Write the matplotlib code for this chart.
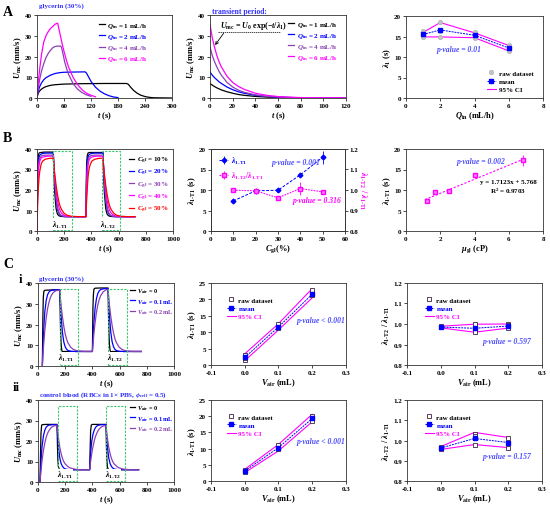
import matplotlib
matplotlib.use('Agg')
import matplotlib.pyplot as plt
from matplotlib.patches import Rectangle
from matplotlib.lines import Line2D
from matplotlib.ticker import FormatStrFormatter

# ------------------------------------------------------------------ data
# A (left): U_mc vs t for each Q_in  (t [s], U [mm/s])
a1_labels = ['1', '2', '4', '6']
a1_q1 = [(0,0),(2,2.0),(5,3.2),(10,4.3),(15,5.0),(20,5.5),(30,6.1),(40,6.4),(60,6.7),(80,6.8),(100,6.9),(150,7.0),(199,7.0),(203,6.6),(208,5.2),(215,3.6),(222,2.4),(230,1.4),(240,0.7),(250,0.3),(260,0.1),(300,0.0)]
a1_q2 = [(0,0),(3,3.5),(6,5.5),(10,7.3),(15,8.8),(20,9.8),(30,11.0),(40,11.8),(50,12.2),(60,12.4),(80,12.5),(107,12.6),(110,12.0),(115,10.0),(120,8.0),(130,5.2),(140,3.3),(150,2.0),(160,1.1),(170,0.5),(180,0.2)]
a1_q4 = [(0,0),(3,5),(6,9),(10,13),(15,16.5),(20,19.5),(25,21.5),(30,23),(35,24.2),(40,24.8),(45,25),(53,25),(55,24),(58,21),(62,17),(66,14),(70,11.5),(80,7),(90,4.3),(100,2.6),(110,1.5),(120,0.8)]
a1_q6 = [(0,0),(3,8),(6,14),(10,21),(15,27),(20,30),(25,32),(30,33.5),(35,34.5),(40,35.5),(44,36),(46,36),(48,34),(52,30),(56,26),(60,22.5),(65,18.5),(70,15),(80,10),(90,6.5),(100,4),(110,2.3),(120,1.3),(130,0.6)]

# A (middle): transient period decay
a2_q1 = [(0,7),(2,6.2),(4,5.5),(6,4.9),(8,4.4),(10,3.9),(15,3),(20,2.3),(25,1.7),(30,1.3),(40,0.75),(50,0.45),(60,0.25),(70,0.15),(80,0.08),(100,0.03),(120,0.0)]
a2_q2 = [(0,12.5),(2,11),(4,9.8),(6,8.8),(8,7.8),(10,7),(15,5.3),(20,4),(25,3),(30,2.3),(40,1.3),(50,0.75),(60,0.45),(70,0.25),(80,0.12),(100,0.05),(120,0.0)]
a2_q4 = [(0,24.5),(2,20.5),(4,17.5),(6,15),(8,12.8),(10,11),(15,7.5),(20,5.3),(25,3.8),(30,2.8),(40,1.5),(50,0.8),(60,0.45),(70,0.25),(80,0.1),(100,0.05),(120,0.0)]
a2_q6 = [(0,35.5),(2,29),(4,24.5),(6,20.5),(8,17.5),(10,15),(15,10.5),(20,7.5),(25,5.6),(30,4.2),(40,2.3),(50,1.3),(60,0.7),(70,0.4),(80,0.2),(100,0.1),(120,0.05)]

# A (right): lambda_1 vs Q_in
a3_q = [1, 2, 4, 6]
a3_mean = [15.5, 16.6, 15.3, 12.2]
a3_hi = [16.0, 18.4, 15.9, 12.8]
a3_lo = [14.9, 14.9, 14.7, 11.5]
a3_raw = [[16.4, 14.9, 15.4], [18.5, 14.9, 16.4], [16.0, 14.7, 15.2], [12.9, 11.4, 12.2]]

# B (left): U_mc vs t for C_gl
b1_labels = ['10', '20', '30', '40', '50']
b1_t = [0,2,5,10,15,20,30,40,60,80,100,120,
        125,130,140,150,160,170,180,200,220,250,300,360,
        362,365,370,375,380,385,395,405,425,445,465,485,
        490,495,505,515,525,535,545,565,585,615,665,720]
b1_c10 = [0,20,33,37,38,38.2,38.3,38.4,38.5,38.5,38.5,38.5,
          27,19,11,8.3,7.5,7.2,7.1,7.0,7.0,7.0,7.0,7.0,
          22,33,37,38,38.2,38.3,38.3,38.3,38.3,38.3,38.3,38.3,
          27,19,11,8.3,7.5,7.2,7.1,7.0,7.0,7.0,7.0,7.0]
b1_c20 = [0,15,28,34,36,37,37.5,37.8,38,38,38,38,
          30,24,15.5,11,8.8,7.8,7.4,7.1,7.0,7.0,7.0,7.0,
          17,28,34,36,37,37.4,37.7,37.9,38,38,38,38,
          30,24,15.5,11,8.8,7.8,7.4,7.1,7.0,7.0,7.0,7.0]
b1_c30 = [0,12,24,31,34,35.5,36.5,36.8,37,37,37,37,
          30,24.5,16,11.5,9.2,8,7.5,7.1,7.0,7.0,7.0,7.0,
          14,24,31,34,35.5,36.2,36.7,36.9,37,37,37,37,
          30,24.5,16,11.5,9.2,8,7.5,7.1,7.0,7.0,7.0,7.0]
b1_c40 = [0,10,20,28,32,34,35.5,36,36.3,36.5,36.5,36.5,
          31,27,20,15,11.8,9.8,8.7,7.6,7.2,7.0,7.0,7.0,
          13,20,28,32,34,35,35.8,36.1,36.4,36.5,36.5,36.5,
          31,27,20,15,11.8,9.8,8.7,7.6,7.2,7.0,7.0,7.0]
b1_c50 = [0,6,13,21,26,29,32.5,34,35,35.3,35.5,35.5,
          31.5,28,22.5,18,14.5,12,10.5,8.6,7.7,7.2,7.0,7.0,
          11,15,21,26,29,31,33,34.2,35,35.3,35.5,35.5,
          31.5,28,22.5,18,14.5,12,10.5,8.6,7.7,7.2,7.0,7.0]
b1_boxes = [(120, 254), (480, 608)]

# B (middle)
b2_c = [10, 20, 30, 40, 50]
b2_lam = [7.35, 9.8, 9.95, 13.7, 18.0]
b2_lam_err = [0.15, 0.15, 0.15, 0.3, 1.6]
b2_ratio = [0.999, 0.996, 0.962, 1.007, 0.991]
b2_ratio_err = [0.005, 0.005, 0.008, 0.03, 0.006]

# B (right)
b3_mu = [1.2, 1.7, 2.5, 4.05, 6.85]
b3_lam = [7.3, 9.5, 9.8, 13.6, 17.2]
b3_err = [0.3, 0.3, 0.3, 0.6, 1.4]
b3_slope, b3_icpt = 1.7123, 5.768

# C-i (left): glycerin, V_air
ci_v0 = [(32,0),(34,12),(36,24),(39,33),(43,36),(50,36.5),(80,36.6),(120,36.7),(160,36.7),(163,26),(166,17),(170,10.5),(175,7.5),(180,6.8),(190,7.0),(250,7.0),(300,7.0),(400,7.0),(402,18),(404,28),(407,34),(411,37),(420,37.5),(460,37.6),(515,37.6),(518,26),(521,17),(525,10.5),(530,7.5),(535,6.8),(545,7.0),(600,7.0),(700,7.0),(760,7.0)]
ci_v1 = [(32,0),(35,6),(40,14),(45,21),(50,26),(60,31.5),(70,34.3),(80,35.6),(90,36.2),(100,36.5),(130,36.7),(160,36.8),(165,30),(170,24),(180,16),(190,11.5),(200,9.2),(210,8.1),(220,7.5),(240,7.1),(260,7.0),(400,7.0),(405,14),(410,20),(420,28),(430,32.5),(440,35),(450,36.2),(460,36.8),(480,37.2),(515,37.3),(520,30.5),(525,24.5),(535,16.3),(545,11.7),(555,9.3),(565,8.1),(575,7.5),(595,7.1),(615,7.0),(760,7.0)]
ci_v2 = [(32,0),(36,5),(40,9),(45,13),(50,17),(60,23),(70,27.5),(80,30.5),(90,32.8),(100,34.2),(110,35.2),(120,35.8),(130,36.2),(145,36.5),(160,36.6),(165,32.5),(170,29),(180,23.5),(190,19),(200,15.5),(210,13),(220,11.2),(240,9.1),(260,8),(280,7.5),(300,7.2),(350,7.0),(400,7.0),(405,11),(410,15),(420,21),(430,26),(440,29.5),(450,32),(460,33.8),(480,35.8),(500,36.7),(515,37),(520,33),(525,29.5),(535,24),(545,19.5),(555,16),(565,13.3),(575,11.5),(595,9.2),(615,8.1),(635,7.5),(655,7.2),(700,7.0),(760,7.0)]
ci_boxes = [(160, 295), (516, 651)]

# C-ii (left): control blood
cii_v0 = [(15,0),(18,12),(22,24),(27,27.8),(35,28),(60,28.1),(140,28.1),(143,18),(146,11),(150,7.5),(155,6.3),(160,6.1),(170,6),(300,6),(380,6),(383,15),(387,25),(392,27.8),(400,28.1),(500,28.1),(503,18),(506,11),(510,7.5),(515,6.3),(520,6.1),(530,6),(620,6),(740,6)]
cii_v1 = [(15,0),(20,7),(25,13),(30,17.5),(40,22.5),(50,25.3),(60,26.7),(70,27.4),(80,27.7),(100,27.9),(140,28),(145,22),(150,17.5),(160,11.8),(170,9),(180,7.6),(190,6.8),(200,6.4),(220,6.1),(250,6),(380,6),(385,12),(390,16.5),(395,19.8),(405,23.5),(415,25.6),(425,26.8),(435,27.4),(445,27.7),(460,27.9),(500,28),(505,22),(510,17.5),(520,11.8),(530,9),(540,7.6),(550,6.8),(560,6.4),(580,6.1),(620,6),(740,6)]
cii_v2 = [(15,0),(20,4),(25,7.5),(30,10.5),(40,15.5),(50,19),(60,21.8),(70,23.7),(80,25),(90,26),(100,26.7),(110,27.1),(120,27.4),(140,27.7),(145,24.5),(150,21.5),(160,17),(170,13.8),(180,11.5),(190,9.9),(200,8.8),(220,7.5),(240,6.8),(260,6.4),(280,6.2),(300,6),(380,6),(385,9),(390,11.5),(395,13.8),(405,17.5),(415,20.5),(425,22.6),(435,24.2),(445,25.4),(455,26.2),(465,26.8),(480,27.3),(500,27.6),(505,24.5),(510,21.5),(520,17),(530,13.8),(540,11.5),(550,9.9),(560,8.8),(580,7.5),(600,6.8),(620,6.4),(640,6.2),(680,6),(740,6)]
cii_boxes = [(150, 286), (501, 637)]

v_air = [0.0, 0.1, 0.2]
v_labels = ['0', '0.1 mL', '0.2 mL']
# C-i middle / right
ci2_mean = [2.3, 11.6, 21.6]
ci2_hi = [3.4, 12.6, 23.3]
ci2_lo = [1.3, 10.7, 20.5]
ci2_raw = [[3.2, 1.6, 2.2], [12.4, 11.2, 11.7], [23.0, 21.2, 21.6]]
ci3_mean = [0.985, 0.979, 0.990]
ci3_hi = [0.989, 0.999, 1.000]
ci3_lo = [0.981, 0.960, 0.980]
ci3_raw = [[0.984, 0.988, 0.983], [0.999, 0.979, 0.961], [1.000, 0.981, 0.993]]
# C-ii middle / right
cii2_mean = [3.1, 10.3, 19.3]
cii2_hi = [3.6, 11.3, 20.6]
cii2_lo = [2.6, 9.3, 18.3]
cii2_raw = [[3.5, 2.9, 3.0], [11.0, 9.8, 10.2], [20.2, 18.6, 19.4]]
cii3_mean = [0.963, 1.010, 0.990]
cii3_hi = [0.970, 1.040, 1.015]
cii3_lo = [0.956, 0.980, 0.965]
cii3_raw = [[0.968, 0.960, 0.962], [1.030, 1.020, 0.980], [1.012, 0.990, 0.965]]

# ------------------------------------------------------------------ style
plt.rcParams.update({
    'font.family': ['Liberation Serif', 'DejaVu Serif'],
    'font.weight': 'bold',
    'font.size': 5,
    'mathtext.fontset': 'custom',
    'mathtext.rm': 'Liberation Serif:bold',
    'mathtext.it': 'Liberation Serif:italic:bold',
    'mathtext.bf': 'Liberation Serif:bold',
    'axes.linewidth': 0.6,
    'axes.edgecolor': '#333333',
    'axes.unicode_minus': False,
    'axes.labelweight': 'bold',
})

W, H = 550, 506
BLK = '#000000'; BLU = '#0000ff'; PUR = '#8a3fb5'; MAG = '#ff00ff'
RED = '#ff0000'; GRN = '#3cc86e'; PV = '#4d4dff'; GRY = '#c4c4c4'
HY = '\u2010'
L11 = r'$\lambda_{\mathrm{1' + HY + r'T1}}$'
L12 = r'$\lambda_{\mathrm{1' + HY + r'T2}}$'

fig = plt.figure(figsize=(W / 100, H / 100), dpi=100)


def add_ax(x0, y0, x1, y1):
    return fig.add_axes([x0 / W, 1 - y1 / H, (x1 - x0) / W, (y1 - y0) / H])


def fmt(ax, xlim, xt, ylim, yt, xl, yl, xf=None, yf=None):
    ax.set_xlim(xlim); ax.set_xticks(xt)
    ax.set_ylim(ylim); ax.set_yticks(yt)
    if xf:
        ax.xaxis.set_major_formatter(FormatStrFormatter(xf))
    if yf:
        ax.yaxis.set_major_formatter(FormatStrFormatter(yf))
    ax.set_xlabel(xl, fontsize=6, labelpad=1)
    ax.set_ylabel(yl, fontsize=6, labelpad=1)
    ax.tick_params(labelsize=5, length=2, width=0.5, pad=1.5)


def xy(pairs):
    return [p[0] for p in pairs], [p[1] for p in pairs]


def series_legend(ax, handles, labels, colors, anchor, fs=5):
    leg = ax.legend(handles, labels, loc='upper left', bbox_to_anchor=anchor,
                    frameon=False, fontsize=fs, handlelength=0.8, handletextpad=0.4,
                    labelspacing=0.3, borderaxespad=0, borderpad=0)
    for t, c in zip(leg.get_texts(), colors):
        t.set_color(c)


def stat_panel(ax, x, mean, hi, lo, raw, raw_style, legend_colors, leg_kw):
    for xi, vals in zip(x, raw):
        ax.plot([xi] * len(vals), vals, ls='none', **raw_style, zorder=3)
    ax.plot(x, hi, color=MAG, lw=0.8, zorder=2)
    ax.plot(x, lo, color=MAG, lw=0.8, zorder=2)
    ax.plot(x, mean, color=BLU, ls=(0, (2, 1)), lw=0.7, marker='s', ms=2.6,
            mfc=BLU, mec=BLU, zorder=4)
    handles = [Line2D([], [], ls='none', **raw_style),
               Line2D([], [], color=BLU, ls=(0, (2, 1)), lw=0.7, marker='s', ms=2.6),
               Line2D([], [], color=MAG, lw=0.8)]
    leg = ax.legend(handles, ['raw dataset', 'mean', '95% CI'], frameon=False,
                    fontsize=5, handlelength=1.3, handletextpad=0.4,
                    labelspacing=0.35, borderpad=0, borderaxespad=0, **leg_kw)
    for t, c in zip(leg.get_texts(), legend_colors):
        t.set_color(c)


def boxes(ax, spans, ytop, label_y):
    for k, (x0, x1) in enumerate(spans):
        ax.add_patch(Rectangle((x0, 0.5), x1 - x0, ytop - 0.5, fill=False,
                               ec=GRN, lw=0.8, ls=(0, (2, 1.2)), zorder=5))
        lab = L11 if k == 0 else L12
        ax.text((x0 + x1) / 2 - 20, label_y, lab, fontsize=5.5, ha='center',
                va='center', zorder=6,
                bbox=dict(fc='white', ec='none', pad=0.3))


def pval(ax, x, y, s, color=PV):
    ax.text(x, y, s, color=color, fontsize=5.5, style='italic')


# ------------------------------------------------------------------ A left
ax = add_ax(37, 16, 172, 99)
cols4 = [BLK, BLU, PUR, MAG]
hs = []
for d, c in zip([a1_q1, a1_q2, a1_q4, a1_q6], cols4):
    t, u = xy(d)
    hs += ax.plot(t, u, color=c, lw=0.9)
fmt(ax, (0, 300), [0, 60, 120, 180, 240, 300], (0, 40), [0, 10, 20, 30, 40],
    r'$t$ (s)', r'$U_{\mathrm{mc}}$ (mm/s)')
series_legend(ax, hs, [r'$Q_{\mathrm{in}}$ = %s mL/h' % q for q in a1_labels], cols4,
              (0.46, 0.93))

# ------------------------------------------------------------------ A middle
ax = add_ax(210, 16, 346, 99)
hs = []
for d, c in zip([a2_q1, a2_q2, a2_q4, a2_q6], cols4):
    t, u = xy(d)
    hs += ax.plot(t, u, color=c, lw=0.9)
fmt(ax, (0, 120), [0, 20, 40, 60, 80, 100, 120], (0, 40), [0, 10, 20, 30, 40],
    r'$t$ (s)', r'$U_{\mathrm{mc}}$ (mm/s)')
series_legend(ax, hs, [r'$Q_{\mathrm{in}}$ = %s mL/h' % q for q in a1_labels], cols4,
              (0.575, 0.945))
ax.text(8.5, 34.0, r'$U_{\mathrm{mc}}$ = $U_0$ exp(' + '\u2212' + r'$t$/$\lambda_1$)',
        fontsize=5.8)
ax.plot([7, 62], [31.6, 31.6], color='k', lw=0.5, ls=(0, (2, 1)))
ax.annotate('', xy=(4.5, 25.5), xytext=(12, 31.2),
            arrowprops=dict(arrowstyle='->', lw=0.6, color='k', shrinkA=0, shrinkB=0))

# ------------------------------------------------------------------ A right
ax = add_ax(406, 17, 543, 99)
stat_panel(ax, a3_q, a3_mean, a3_hi, a3_lo, a3_raw,
           dict(marker='o', ms=3.2, mfc=GRY, mec='#aaaaaa', mew=0.4),
           [BLK, BLK, BLK],
           dict(loc='lower right', bbox_to_anchor=(0.93, 0.07)))
fmt(ax, (0, 8), [0, 2, 4, 6, 8], (0, 20), [0, 5, 10, 15, 20],
    r'$Q_{\mathrm{in}}$ (mL/h)', r'$\lambda_1$ (s)')
pval(ax, 1.8, 11.5, 'p-value = 0.01')

# ------------------------------------------------------------------ B left
ax = add_ax(37, 150, 173, 232)
cols5 = [BLK, BLU, PUR, MAG, RED]
hs = []
for u, c in zip([b1_c10, b1_c20, b1_c30, b1_c40, b1_c50], cols5):
    hs += ax.plot(b1_t, u, color=c, lw=0.9)
boxes(ax, b1_boxes, 39.0, 3.2)
fmt(ax, (0, 1000), [0, 200, 400, 600, 800, 1000], (0, 40), [0, 10, 20, 30, 40],
    r'$t$ (s)', r'$U_{\mathrm{mc}}$ (mm/s)')
series_legend(ax, hs, [r'$C_{\mathrm{gl}}$ = %s%%' % c for c in b1_labels], cols5,
              (0.675, 0.93))

# ------------------------------------------------------------------ B middle
ax = add_ax(211, 150, 345, 232)
ax2 = ax.twinx()
h1 = ax.errorbar(b2_c, b2_lam, yerr=b2_lam_err, color=BLU, ls=(0, (3, 1.5)), lw=0.7,
                 marker='D', ms=2.4, mfc=BLU, mec=BLU, elinewidth=0.6, capsize=0)
h2 = ax2.errorbar(b2_c, b2_ratio, yerr=b2_ratio_err, color=MAG, ls=(0, (1.5, 1)), lw=0.8,
                  marker='s', ms=2.8, mfc='#ff80ff', mec=MAG, elinewidth=0.6, capsize=0)
fmt(ax, (0, 60), [0, 10, 20, 30, 40, 50, 60], (0, 20), [0, 5, 10, 15, 20],
    r'$C_{\mathrm{gl}}$(%)', L11 + ' (s)')
ax2.set_ylim(0.8, 1.2)
ax2.set_yticks([0.8, 0.9, 1.0, 1.1, 1.2])
ax2.yaxis.set_major_formatter(FormatStrFormatter('%.1f'))
ax2.tick_params(labelsize=5, length=2, width=0.5, pad=1.5)
ax2.set_ylabel(L12 + ' / ' + L11, fontsize=6, color=MAG, rotation=270, labelpad=7)
leg = ax.legend([h1, h2], [L11, L12 + '/' + L11], loc='upper left',
                bbox_to_anchor=(0.06, 0.93), frameon=False, fontsize=5.5,
                handlelength=1.2, handletextpad=0.4, labelspacing=0.5,
                borderpad=0, borderaxespad=0)
for t, c in zip(leg.get_texts(), [BLU, MAG]):
    t.set_color(c)
pval(ax, 27, 16.3, 'p-value = 0.001')
pval(ax, 36.5, 7.0, 'p-value = 0.316', color=MAG)

# ------------------------------------------------------------------ B right
ax = add_ax(406, 150, 543, 232)
ax.errorbar(b3_mu, b3_lam, yerr=b3_err, ls='none', marker='s', ms=2.8,
            mfc='#ff80ff', mec=MAG, ecolor=MAG, elinewidth=0.6, capsize=0)
fx = [min(b3_mu) - 0.1, max(b3_mu) + 0.05]
ax.plot(fx, [b3_slope * v + b3_icpt for v in fx], color=MAG, lw=0.8, ls=(0, (2, 1.5)))
fmt(ax, (0, 8), [0, 2, 4, 6, 8], (0, 20), [0, 5, 10, 15, 20],
    r'$\mu_{\mathrm{gl}}$ (cP)', L11 + ' (s)')
pval(ax, 2.95, 16.6, 'p-value = 0.002')
ax.text(5.95, 11.6, 'y = %.4fx + %.3f' % (b3_slope, b3_icpt), fontsize=5, ha='center')
ax.text(5.95, 9.4, r'R$^{\mathrm{2}}$ = 0.9703', fontsize=5, ha='center')

# ------------------------------------------------------------------ C-i / C-ii
cols3 = [BLK, BLU, PUR]
raw_sq = dict(marker='s', ms=2.8, mfc='white', mec='#3a2040', mew=0.6)
rows = [
    (284, 367, [ci_v0, ci_v1, ci_v2], ci_boxes, 37.3, 4.0,
     (ci2_mean, ci2_hi, ci2_lo, ci2_raw), (ci3_mean, ci3_hi, ci3_lo, ci3_raw),
     13.0, 'p-value < 0.001', 0.906, 'p-value = 0.597'),
    (401, 483, [cii_v0, cii_v1, cii_v2], cii_boxes, 37.3, 3.5,
     (cii2_mean, cii2_hi, cii2_lo, cii2_raw), (cii3_mean, cii3_hi, cii3_lo, cii3_raw),
     11.6, 'p-value < 0.001', 0.915, 'p-value = 0.157'),
]
for (y0, y1, curves, bx, btop, ly, mid, right, py2, ps2, py3, ps3) in rows:
    ax = add_ax(38, y0, 174, y1)
    hs = []
    for d, c in zip(curves, cols3):
        t, u = xy(d)
        hs += ax.plot(t, u, color=c, lw=0.9)
    boxes(ax, bx, btop, ly)
    fmt(ax, (0, 1000), [0, 200, 400, 600, 800, 1000], (0, 40), [0, 10, 20, 30, 40],
        r'$t$ (s)', r'$U_{\mathrm{mc}}$ (mm/s)')
    series_legend(ax, hs, [r'$V_{\mathrm{air}}$ = %s' % v for v in v_labels], cols3,
                  (0.675, 0.965), fs=4.5)

    ax = add_ax(211, y0, 346, y1 - 1)
    stat_panel(ax, v_air, *mid, raw_sq, [BLK, BLU, MAG],
               dict(loc='upper left', bbox_to_anchor=(0.115, 0.83)))
    fmt(ax, (-0.1, 0.3), [-0.1, 0.0, 0.1, 0.2, 0.3], (0, 25), [0, 5, 10, 15, 20, 25],
        r'$V_{\mathrm{air}}$ (mL)', L11 + ' (s)', xf='%.1f')
    pval(ax, 0.152, py2, ps2)

    ax = add_ax(407, y0, 542, y1 - 1)
    stat_panel(ax, v_air, *right, raw_sq, [BLK, BLU, MAG],
               dict(loc='upper left', bbox_to_anchor=(0.13, 0.83)))
    fmt(ax, (-0.1, 0.3), [-0.1, 0.0, 0.1, 0.2, 0.3], (0.8, 1.2),
        [0.8, 0.9, 1.0, 1.1, 1.2], r'$V_{\mathrm{air}}$ (mL)', L12 + ' / ' + L11,
        xf='%.1f', yf='%.1f')
    pval(ax, 0.123, py3, ps3)

# ------------------------------------------------------------------ labels
def ftext(x, y, s, **kw):
    fig.text(x / W, 1 - y / H, s, **kw)

ftext(3, 12, 'A', fontsize=10, va='center')
ftext(3, 138, 'B', fontsize=10, va='center')
ftext(3, 264, 'C', fontsize=10, va='center')
ftext(19, 280, 'i', fontsize=9, va='center')
ftext(13, 388, 'ii', fontsize=9, va='center')
ftext(39, 6, 'glycerin (30%)', fontsize=5, color='#3030ff', va='center')
ftext(212, 12.5, 'transient period:', fontsize=5.5, color='#3030ff', va='center')
ftext(39, 279, 'glycerin (30%)', fontsize=5, color='#3030ff', va='center')
ftext(39, 395, r'control blood (RBCs in 1× PBS, $\phi_{\mathrm{cell}}$ = 0.5)',
      fontsize=5, color='#3030ff', va='center')

fig.savefig('out.png', dpi=100)
